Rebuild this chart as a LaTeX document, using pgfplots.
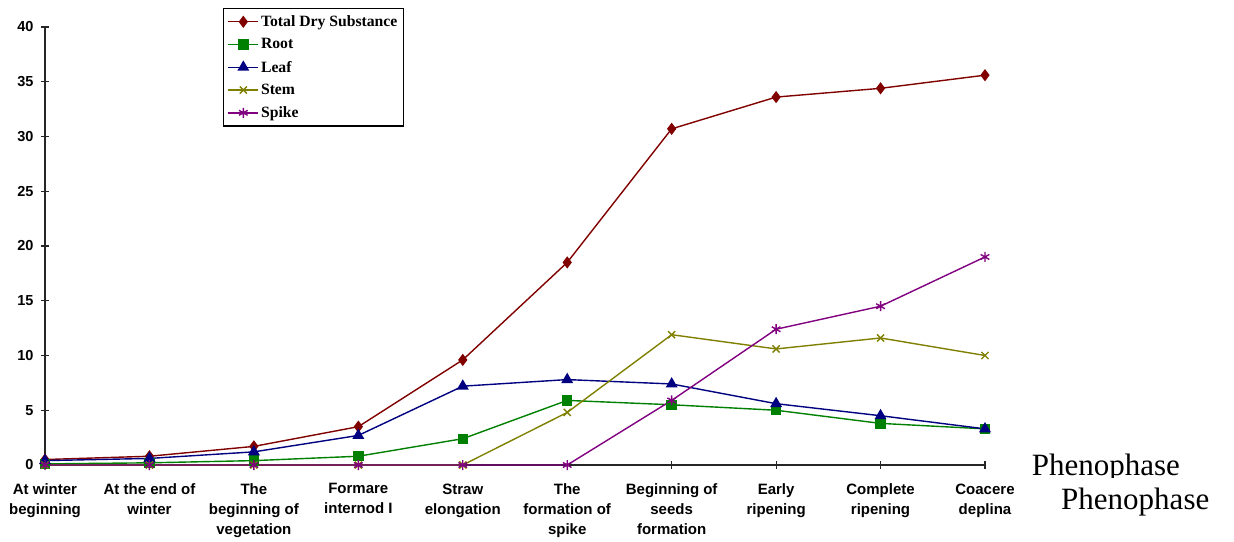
\documentclass[border=0pt]{standalone}
\usepackage{pgfplots}
\pgfplotsset{compat=1.18}
\usepackage{fontspec}
\setmainfont{Liberation Serif}
\newfontfamily\arialb{Liberation Sans}[BoldFont={* Bold}]
\newfontfamily\timesb{Liberation Serif}

\definecolor{cTotal}{RGB}{128,0,0}
\definecolor{cRoot}{RGB}{0,128,0}
\definecolor{cLeaf}{RGB}{0,0,128}
\definecolor{cStem}{RGB}{128,128,0}
\definecolor{cSpike}{RGB}{128,0,128}

\pgfplotstableread{
x total root leaf stem spike
0 0.5  0.1 0.4 0.0  0.0
1 0.8  0.2 0.6 0.0  0.0
2 1.7  0.4 1.2 0.0  0.0
3 3.5  0.8 2.7 0.0  0.0
4 9.6  2.4 7.2 0.0  0.0
5 18.5 5.9 7.8 4.8  0.0
6 30.7 5.5 7.4 11.9 5.9
7 33.6 5.0 5.6 10.6 12.4
8 34.4 3.8 4.5 11.6 14.5
9 35.6 3.3 3.3 10.0 19.0
}\phenodata

\begin{document}
\begin{tikzpicture}
\path[use as bounding box] (-45pt,-76pt) rectangle (1189pt,465pt);
\begin{axis}[
  scale only axis,
  width=940pt, height=438pt,
  xmin=0, xmax=9, ymin=0, ymax=40,
  clip=false,
  axis x line=bottom, axis y line=left,
  axis line style={-, line width=1.4pt, draw=black!85},
  xtick={0,...,9},
  ytick={0,5,...,40},
  xticklabels={At winter\\beginning, At the end of\\winter, The\\beginning of\\vegetation, Formare\\internod I, Straw\\elongation, The\\formation of\\spike, Beginning of\\seeds\\formation, Early\\ripening, Complete\\ripening, Coacere\\deplina},
  tick align=center,
  major tick length=8pt,
  tick style={line width=1.2pt, black!85},
  xticklabel style={align=center, font=\arialb\bfseries\fontsize{15}{20}\selectfont, yshift=-11pt},
  yticklabel style={font=\arialb\bfseries\fontsize{14.5}{17}\selectfont, xshift=-4pt},
  /pgf/number format/assume math mode=true,
  every axis plot/.append style={line width=1.4pt},
  legend cell align=left,
  legend style={
    at={(rel axis cs:0.1894,1.0434)}, anchor=north west,
    draw=black, line width=1.2pt,
    font=\timesb\bfseries\fontsize{15.7}{18}\selectfont,
    row sep=6.6pt, inner xsep=4pt, inner ysep=5pt,
  },
  legend image code/.code={
    \draw[mark repeat=2, mark phase=2, #1] plot coordinates {(0pt,0pt) (15pt,0pt) (30pt,0pt)};
  },
]
\addplot[cTotal, mark=diamond*, mark size=5pt] table[x=x, y=total] {\phenodata};
\addlegendentry{Total Dry Substance}
\addplot[cRoot, mark=square*, mark size=4.5pt] table[x=x, y=root] {\phenodata};
\addlegendentry{Root}
\addplot[cLeaf, mark=triangle*, mark size=5.5pt] table[x=x, y=leaf] {\phenodata};
\addlegendentry{Leaf}
\addplot[cStem, mark=x, mark size=5pt] table[x=x, y=stem] {\phenodata};
\addlegendentry{Stem}
\addplot[cSpike, mark=asterisk, mark size=5pt] table[x=x, y=spike] {\phenodata};
\addlegendentry{Spike}

% axis title, drawn twice: once cut off at the baseline, once in full
\begin{scope}
  \clip (rel axis cs:1.04,-0.0275) rectangle (rel axis cs:1.3,0.05);
  \node[anchor=base west, inner sep=0pt, font=\timesb\fontsize{31}{31}\selectfont]
    at (rel axis cs:1.0497,-0.0251) {Phenophase};
\end{scope}
\node[anchor=base west, inner sep=0pt, font=\timesb\fontsize{31}{31}\selectfont]
  at (rel axis cs:1.0809,-0.1005) {Phenophase};
\end{axis}
\end{tikzpicture}
\end{document}
